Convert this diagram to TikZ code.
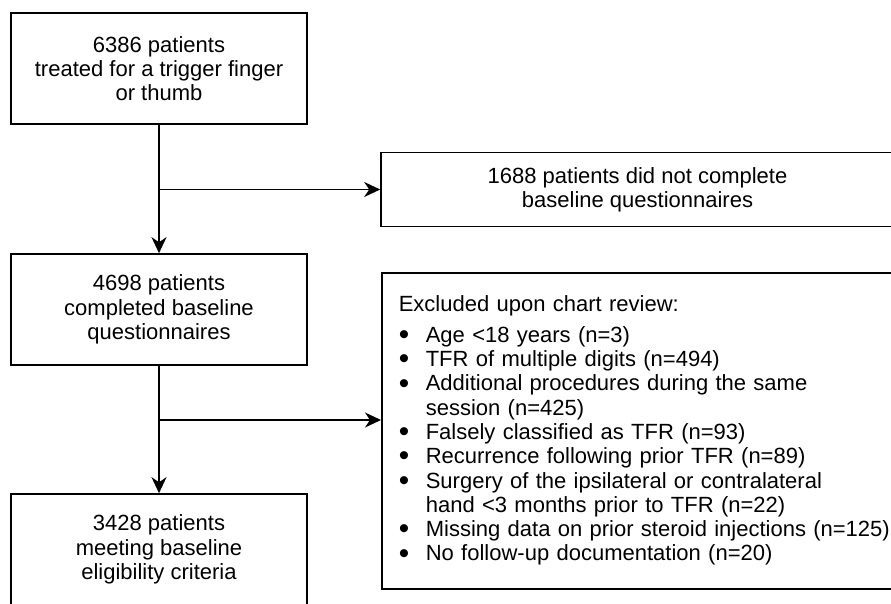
\documentclass[tikz,border=0pt]{standalone}
\usepackage{fontspec}
\setmainfont{Liberation Sans}
\usetikzlibrary{arrows.meta}

\tikzset{
  box/.style={draw, line width=1.6pt, minimum width=296pt, minimum height=111pt,
    align=center, inner sep=0pt},
  sidebox/.style={draw, line width=1.6pt, minimum width=513pt, minimum height=74pt,
    align=center, inner sep=0pt},
  listbox/.style={draw, line width=1.6pt, text width=540pt, minimum height=316pt,
    inner xsep=17pt, inner ysep=0pt, align=left, anchor=north west},
  flow/.style={line width=1.8pt, -{Stealth[length=16pt,width=15pt,inset=5pt]}}
}
\newcommand\itm[1]{\makebox[27pt][l]{\raisebox{-0.1em}{\scalebox{1.35}{\textbullet}}}#1}
\newcommand\cont[1]{\hspace*{27pt}#1}

\begin{document}
\begin{tikzpicture}[x=1pt,y=-1pt,font=\fontsize{22}{24.3}\selectfont]
\useasboundingbox (0,0) rectangle (891,604);
% main column
\node[box] (start) at (159,68.5) {6386 patients\\treated for a trigger finger\\or thumb};
\node[box] (baseline) at (159,309.5) {4698 patients\\completed baseline\\questionnaires};
\node[box] (eligible) at (159,549.5) {3428 patients\\meeting baseline\\eligibility criteria};
% exclusions
\node[sidebox] (noquest) at (637.5,189.5) {1688 patients did not complete\\baseline questionnaires};
\node[listbox] (review) at (381,272) {Excluded upon chart review:\\[6pt]
  \itm{Age <18 years (n=3)}\\
  \itm{TFR of multiple digits (n=494)}\\
  \itm{Additional procedures during the same}\\
  \cont{session (n=425)}\\
  \itm{Falsely classified as TFR (n=93)}\\
  \itm{Recurrence following prior TFR (n=89)}\\
  \itm{Surgery of the ipsilateral or contralateral}\\
  \cont{hand <3 months prior to TFR (n=22)}\\
  \itm{Missing data on prior steroid injections (n=125)}\\
  \itm{No follow-up documentation (n=20)}};
% connectors
\coordinate (split1) at (start.south |- noquest.west);
\coordinate (split2) at (159,420);
\draw[flow] (start) -- (baseline);
\draw[flow] (split1) -- (noquest.west);
\draw[flow] (baseline) -- (eligible);
\draw[flow] (split2) -- (split2 -| review.west);
\end{tikzpicture}
\end{document}
